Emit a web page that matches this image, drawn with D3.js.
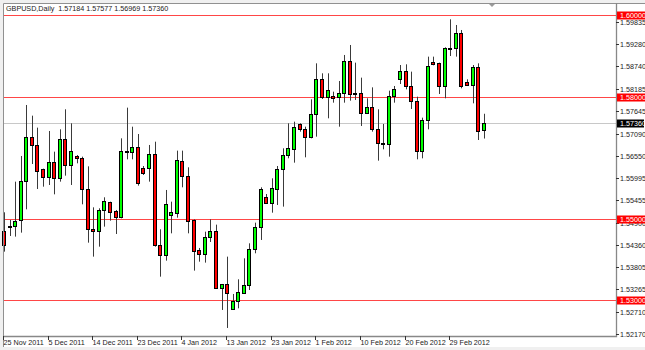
<!doctype html>
<html>
  <head>
    <script src="https://cdn.jsdelivr.net/npm/d3@7/dist/d3.min.js"></script>
    <style>
    body { margin: 0; background: #f0f0f0; }
    svg { display: block; font-family: "Liberation Sans", Arial, sans-serif; font-size: 7.2px; }
    .wick { stroke: #3a3a3a; }
    .body { stroke: #000; }
    </style>
  </head>
  <body>
    <svg id="chart" width="645" height="350"></svg>
    <script>
      var symbol = "GBPUSD,Daily";
      var lastOHLC = [1.57184, 1.57577, 1.56969, 1.57360];

      var opens = [1.54709, 1.54807, 1.54823, 1.54971, 1.55936, 1.57015, 1.56811, 1.56214, 1.56034, 1.56402,
        1.55993, 1.56958, 1.56320, 1.56533, 1.56500, 1.55723, 1.54742, 1.54709, 1.55216, 1.55404,
        1.55191, 1.55036, 1.56663, 1.56647, 1.56753, 1.56255, 1.56238, 1.56582, 1.54349, 1.54120,
        1.55093, 1.55134, 1.56418, 1.56058, 1.54971, 1.54226, 1.54136, 1.54545, 1.54693, 1.53310,
        1.53392, 1.52779, 1.52983, 1.53171, 1.53376, 1.54251, 1.54807, 1.55543, 1.55396, 1.55739,
        1.56214, 1.56557, 1.56721, 1.57318, 1.57203, 1.57015, 1.57571, 1.58430, 1.57996, 1.58021,
        1.57980, 1.58078, 1.58880, 1.58054, 1.58095, 1.57604, 1.57735, 1.57203, 1.56868, 1.56827,
        1.58021, 1.58430, 1.58618, 1.58258, 1.57890, 1.56672, 1.57416, 1.58847, 1.58814, 1.58266,
        1.59175, 1.59182, 1.59567, 1.58348, 1.58275, 1.58716, 1.57184];
      var highs = [1.55159, 1.54971, 1.55911, 1.56541, 1.57792, 1.57530, 1.57236, 1.56230, 1.57154, 1.56647,
        1.57195, 1.57686, 1.57342, 1.56565, 1.56524, 1.56287, 1.55281, 1.55257, 1.55527, 1.55420,
        1.55216, 1.56974, 1.57727, 1.57260, 1.57080, 1.56295, 1.56811, 1.56892, 1.54742, 1.55707,
        1.55420, 1.56672, 1.56672, 1.56263, 1.54987, 1.54284, 1.54684, 1.54987, 1.54856, 1.53400,
        1.54071, 1.53155, 1.53515, 1.54030, 1.54398, 1.54905, 1.55772, 1.55608, 1.55993, 1.56295,
        1.56729, 1.57342, 1.57383, 1.57342, 1.57260, 1.57931, 1.58814, 1.58569, 1.58569, 1.58119,
        1.58381, 1.59019, 1.59264, 1.58831, 1.58463, 1.57956, 1.58225, 1.57686, 1.57326, 1.58144,
        1.58258, 1.58773, 1.58790, 1.58610, 1.57996, 1.57481, 1.58978, 1.58978, 1.58831, 1.59207,
        1.59894, 1.59755, 1.59632, 1.58422, 1.58773, 1.58814, 1.57577];
      var lows = [1.54194, 1.54578, 1.54562, 1.54660, 1.55232, 1.56344, 1.55731, 1.55788, 1.55829, 1.55600,
        1.55911, 1.56058, 1.55829, 1.56361, 1.55355, 1.54414, 1.54071, 1.54316, 1.54807, 1.54954,
        1.54627, 1.55011, 1.56459, 1.56459, 1.55813, 1.56075, 1.55911, 1.54316, 1.53580, 1.53973,
        1.54643, 1.55028, 1.55772, 1.54643, 1.53728, 1.53948, 1.53924, 1.54431, 1.53285, 1.52763,
        1.52321, 1.52763, 1.52803, 1.53155, 1.53253, 1.54153, 1.54480, 1.55363, 1.55150, 1.55339,
        1.55298, 1.56484, 1.56377, 1.57138, 1.56508, 1.56974, 1.57015, 1.57939, 1.57465, 1.57849,
        1.57260, 1.57849, 1.57898, 1.57915, 1.57277, 1.57571, 1.57138, 1.56426, 1.56704, 1.56524,
        1.57849, 1.58307, 1.58176, 1.57694, 1.56459, 1.56483, 1.57195, 1.58765, 1.58062, 1.57956,
        1.58994, 1.58978, 1.58201, 1.58275, 1.57833, 1.56933, 1.56969];
      var closes = [1.54357, 1.54823, 1.54954, 1.55936, 1.57015, 1.56811, 1.56181, 1.56017, 1.56402, 1.55993,
        1.56958, 1.56320, 1.56663, 1.56500, 1.55723, 1.54742, 1.54709, 1.55216, 1.55437, 1.55175,
        1.55036, 1.56663, 1.56631, 1.56753, 1.55870, 1.56115, 1.56582, 1.54357, 1.54120, 1.55371,
        1.55167, 1.56434, 1.56058, 1.54954, 1.54218, 1.54136, 1.54554, 1.54693, 1.53310, 1.53392,
        1.53171, 1.52983, 1.53204, 1.53376, 1.54251, 1.54807, 1.55731, 1.55396, 1.55747, 1.56214,
        1.56557, 1.56745, 1.57252, 1.57195, 1.57015, 1.57571, 1.58422, 1.57980, 1.58160, 1.57964,
        1.58095, 1.58871, 1.58054, 1.58095, 1.57587, 1.57735, 1.57195, 1.56868, 1.56827, 1.58021,
        1.58193, 1.58618, 1.58258, 1.57890, 1.56672, 1.57424, 1.58757, 1.58798, 1.58266, 1.59182,
        1.59190, 1.59567, 1.58258, 1.58283, 1.58716, 1.57162, 1.57360];

      var dateTickBars = [0, 8, 16, 24, 32, 40, 48, 56, 64, 72, 80];
      var dateTickLabels = ["25 Nov 2011", "5 Dec 2011", "14 Dec 2011", "23 Dec 2011", "4 Jan 2012",
        "13 Jan 2012", "23 Jan 2012", "1 Feb 2012", "10 Feb 2012", "20 Feb 2012", "29 Feb 2012"];
      var priceTicks = ["1.59835", "1.59280", "1.58740", "1.58185", "1.57645", "1.57090", "1.56550",
        "1.55995", "1.55455", "1.54900", "1.54360", "1.53805", "1.53265", "1.52710", "1.52170"];
      var levelLines = [1.60, 1.58, 1.55, 1.53];

      var svg = d3.select("#chart");
      var W = 645, H = 350;
      var plotL = 3, plotT = 3, plotR = 616, plotB = 336;

      var x = d3.scaleLinear().domain([0, opens.length - 1]).range([4, 483.7]);
      var y = d3.scaleLinear().domain([1.53, 1.60]).range([300.3, 15]);

      // window background
      svg.append("rect").attr("x", plotL).attr("y", plotT)
        .attr("width", W - plotL).attr("height", 347 - plotT).attr("fill", "#fff");

      // current price line
      var last = closes[closes.length - 1];
      svg.append("line")
        .attr("x1", plotL).attr("x2", plotR)
        .attr("y1", Math.round(y(last)) + 0.5).attr("y2", Math.round(y(last)) + 0.5)
        .attr("stroke", "#c8c8c8");

      // horizontal level lines
      svg.selectAll("line.level")
        .data(levelLines)
        .enter()
        .append("line")
          .attr("class", "level")
          .attr("x1", plotL).attr("x2", plotR)
          .attr("y1", d => Math.round(y(d)) + 0.5)
          .attr("y2", d => Math.round(y(d)) + 0.5)
          .style("stroke", "#ff4646")
          .style("stroke-width", 1.2);

      var bars = d3.range(opens.length);

      // wicks
      svg.selectAll("line.wick")
        .data(bars)
        .enter()
        .append("line")
          .attr("class", "wick")
          .attr("x1", i => Math.round(x(i)) + 0.5)
          .attr("x2", i => Math.round(x(i)) + 0.5)
          .attr("y1", i => y(highs[i]))
          .attr("y2", i => y(lows[i]));

      // bodies
      svg.selectAll("rect.body")
        .data(bars)
        .enter()
        .append("rect")
          .attr("class", "body")
          .attr("shape-rendering", "crispEdges")
          .attr("x", i => Math.round(x(i)) - 1.5)
          .attr("width", 3)
          .attr("y", i => Math.round(y(Math.max(opens[i], closes[i]))) + 0.5)
          .attr("height", i => Math.max(1, Math.round(y(Math.min(opens[i], closes[i]))) - Math.round(y(Math.max(opens[i], closes[i])))))
          .attr("fill", i => closes[i] >= opens[i] ? "#00ff00" : "#ff0000");

      // frame
      svg.append("path")
        .attr("d", `M${plotL + 0.5},${H - 3} V${plotT + 0.5} H${W}`)
        .attr("fill", "none").attr("stroke", "#909090");
      svg.append("path")
        .attr("d", `M${plotL},${plotB + 0.5} H${plotR + 0.5} V${plotT}`)
        .attr("fill", "none").attr("stroke", "#888").attr("stroke-width", 1.3);
      svg.append("path")
        .attr("d", "M489,4 L495,4 L492,7 Z")
        .attr("fill", "#999");

      // price axis
      var pa = svg.append("g");
      priceTicks.forEach(function (t) {
        var py = Math.round(y(+t));
        pa.append("line").attr("x1", plotR).attr("x2", plotR + 3)
          .attr("y1", py + 0.5).attr("y2", py + 0.5).attr("stroke", "#333");
        pa.append("text").attr("x", 620).attr("y", py + 2.6).attr("fill", "#222").text(t);
      });

      // red level labels
      levelLines.forEach(function (v) {
        var py = Math.round(y(v));
        pa.append("rect").attr("x", plotR + 1).attr("y", py - 3.5)
          .attr("width", W - plotR - 1).attr("height", 8).attr("fill", "#ff0000");
        pa.append("text").attr("x", 620).attr("y", py + 2.8).attr("fill", "#fff").text(v.toFixed(5));
      });

      // current price label
      var cy = Math.round(y(last));
      pa.append("rect").attr("x", plotR + 1).attr("y", cy - 3.5)
        .attr("width", W - plotR - 2).attr("height", 8).attr("fill", "#000");
      pa.append("text").attr("x", 620).attr("y", cy + 2.8).attr("fill", "#fff").text(last.toFixed(5));

      // date axis
      var da = svg.append("g");
      dateTickBars.forEach(function (b, k) {
        var tx = Math.round(x(b)) - 0.5;
        da.append("line").attr("x1", tx).attr("x2", tx)
          .attr("y1", plotB).attr("y2", plotB + 4).attr("stroke", "#333");
        da.append("text").attr("x", tx).attr("y", 345).attr("fill", "#222").text(dateTickLabels[k]);
      });

      // header
      svg.append("text").attr("x", 6).attr("y", 10.5).attr("fill", "#222")
        .style("white-space", "pre")
        .text(symbol + "  " + lastOHLC.map(d => d.toFixed(5)).join(" "));
    </script>
  </body>
</html>
